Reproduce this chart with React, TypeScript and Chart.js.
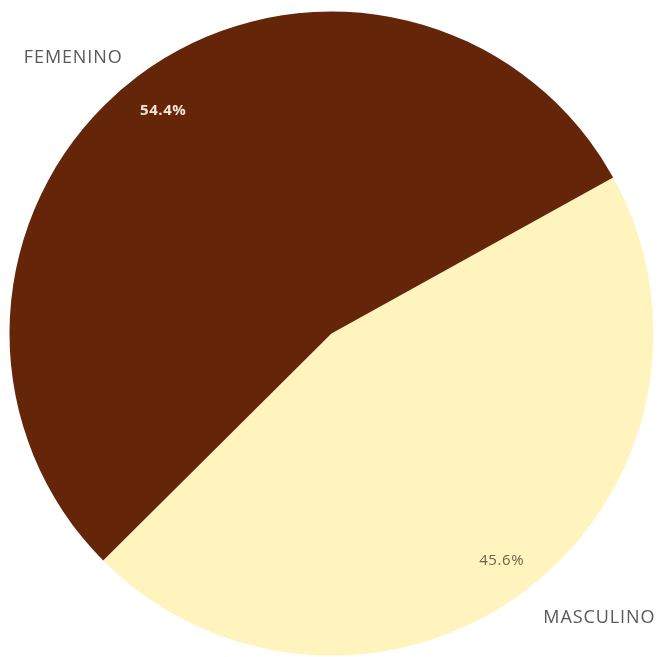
import React, { useEffect, useRef } from "react";
import { Chart, registerables } from "chart.js";

Chart.register(...registerables);

const categories = ["MASCULINO", "FEMENINO"];
const values = [45.6, 54.4];
const percentLabels = ["45.6%", "54.4%"];
const colors = ["#FFF4BE", "#652508"];
const percentColors = ["#6E6545", "#F3E6D6"];

const labelPlugin = {
  id: "pieLabels",
  afterDatasetsDraw(chart: any) {
    const ctx = chart.ctx;
    const meta = chart.getDatasetMeta(0);
    meta.data.forEach((arc: any, i: number) => {
      const p = arc.getProps(["startAngle", "endAngle", "x", "y", "outerRadius"], true);
      const mid = (p.startAngle + p.endAngle) / 2;
      const cos = Math.cos(mid);
      const sin = Math.sin(mid);
      ctx.save();
      // percentage inside
      ctx.font = (i === 1 ? "bold " : "") + "15px 'Open Sans', sans-serif";
      (ctx as any).letterSpacing = "0.6px";
      ctx.fillStyle = percentColors[i];
      ctx.textAlign = "center";
      ctx.textBaseline = "middle";
      const pf = i === 0 ? 0.88 : 0.87;
      ctx.fillText(percentLabels[i], p.x + cos * p.outerRadius * pf, p.y + sin * p.outerRadius * pf + 1);
      // category outside
      ctx.font = "18px 'Open Sans', sans-serif";
      (ctx as any).letterSpacing = "0.9px";
      ctx.fillStyle = "#595959";
      ctx.textAlign = cos < 0 ? "right" : "left";
      const f = cos < 0 ? 1.08 : 1.095;
      ctx.fillText(categories[i], p.x + cos * p.outerRadius * f, p.y + sin * p.outerRadius * f + 2);
      ctx.restore();
    });
  },
};

export default function App() {
  const ref = useRef<HTMLCanvasElement>(null);
  useEffect(() => {
    if (!ref.current) return;
    const chart = new Chart(ref.current, {
      type: "pie",
      data: {
        labels: categories,
        datasets: [
          {
            data: values,
            backgroundColor: colors,
            borderWidth: 0,
          },
        ],
      },
      options: {
        animation: false,
        responsive: false,
        rotation: 61,
        layout: { padding: { left: 9.5, right: 5.5, top: 11.5, bottom: 1.5 } },
        plugins: {
          legend: { display: false },
          tooltip: { enabled: false },
        },
      },
      plugins: [labelPlugin],
    });
    return () => chart.destroy();
  }, []);
  return (
    <div style={{ position: "absolute", left: 0, top: 0, width: 659, height: 657, background: "#fff" }}>
      <canvas ref={ref} width={659} height={657} style={{ display: "block" }} />
    </div>
  );
}
